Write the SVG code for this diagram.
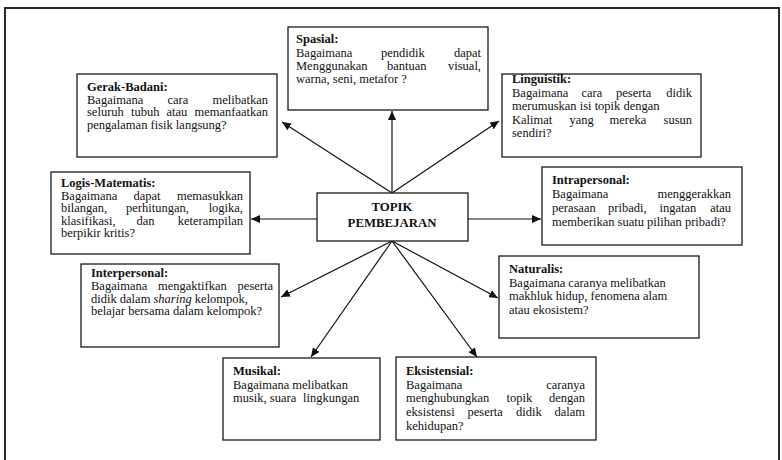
<svg xmlns="http://www.w3.org/2000/svg" width="782" height="460" viewBox="0 0 782 460">
<style>
.frame{fill:none;stroke:#2a2a2a;stroke-width:2}
.box{fill:#fff;stroke:#1a1a1a;stroke-width:1.3}
.t{font-size:12.5px;fill:#111}
.b{font-weight:bold}
.c{font-size:12.8px;font-weight:bold;text-anchor:middle}
.e{text-anchor:end}
.arr{stroke:#111;stroke-width:1.2;fill:none;marker-end:url(#ah)}
</style>
<defs>
<marker id="ah" markerUnits="userSpaceOnUse" markerWidth="10" markerHeight="8" refX="9" refY="4" orient="auto">
<path d="M0,0 L9,4 L0,8 Z" fill="#111"/>
</marker>
</defs>
<rect width="782" height="460" fill="#fff"/>
<rect class="frame" x="5" y="8" width="774" height="470"/>

<g id="connectors">
<line class="arr" x1="392" y1="193" x2="282" y2="122"/>
<line class="arr" x1="392" y1="193" x2="392" y2="111"/>
<line class="arr" x1="392" y1="193" x2="499" y2="121"/>
<line class="arr" x1="317" y1="219" x2="251" y2="219"/>
<line class="arr" x1="468" y1="219" x2="541" y2="219"/>
<line class="arr" x1="392" y1="241" x2="281" y2="297"/>
<line class="arr" x1="392" y1="241" x2="311" y2="357"/>
<line class="arr" x1="392" y1="241" x2="477" y2="357"/>
<line class="arr" x1="392" y1="241" x2="498" y2="298"/>
</g>

<g font-family="'Liberation Serif', 'Times New Roman', Times, serif">
<g id="topik">
<rect class="box" x="317" y="193" width="151" height="48"/>
<text class="t c" x="392" y="211">TOPIK</text>
<text class="t c" x="392" y="227">PEMBEJARAN</text>
</g>

<g id="spasial">
<rect class="box" x="288" y="27" width="200" height="83"/>
<text class="t b" x="296" y="43">Spasial:</text>
<text class="t" y="57"><tspan x="296">Bagaimana</tspan><tspan x="381">pendidik</tspan></text>
<text class="t e" x="481" y="57">dapat</text>
<text class="t" y="70"><tspan x="296">Menggunakan</tspan><tspan x="387">bantuan</tspan></text>
<text class="t e" x="481" y="70">visual,</text>
<text class="t" x="296" y="83">warna, seni, metafor ?</text>
</g>

<g id="gerak-badani">
<rect class="box" x="77" y="74" width="200" height="83"/>
<text class="t b" x="87" y="91">Gerak-Badani:</text>
<text class="t" y="103.5"><tspan x="87">Bagaimana</tspan><tspan x="167.5">cara</tspan></text>
<text class="t e" x="268" y="103.5">melibatkan</text>
<text class="t" y="116"><tspan x="87">seluruh</tspan><tspan x="131">tubuh</tspan><tspan x="166.5">atau</tspan></text>
<text class="t e" x="268" y="116">memanfaatkan</text>
<text class="t" x="87" y="128.5">pengalaman fisik langsung?</text>
</g>

<g id="linguistik">
<rect class="box" x="502" y="74" width="199" height="83"/>
<text class="t b" x="512" y="83">Linguistik:</text>
<text class="t" y="96.5"><tspan x="512">Bagaimana</tspan><tspan x="581.5">cara</tspan><tspan x="616">peserta</tspan></text>
<text class="t e" x="692" y="96.5">didik</text>
<text class="t" x="512" y="110">merumuskan isi topik dengan</text>
<text class="t" y="123.5"><tspan x="512">Kalimat</tspan><tspan x="569.5">yang</tspan><tspan x="609.5">mereka</tspan></text>
<text class="t e" x="692" y="123.5">susun</text>
<text class="t" x="512" y="137">sendiri?</text>
</g>

<g id="logis-matematis">
<rect class="box" x="51" y="172" width="199" height="82"/>
<text class="t b" x="61" y="187">Logis-Matematis:</text>
<text class="t" y="199.5"><tspan x="61">Bagaimana</tspan><tspan x="133.5">dapat</tspan></text>
<text class="t e" x="243" y="199.5">memasukkan</text>
<text class="t" y="212"><tspan x="61">bilangan,</tspan><tspan x="126">perhitungan,</tspan></text>
<text class="t e" x="243" y="212">logika,</text>
<text class="t" y="224.5"><tspan x="61">klasifikasi,</tspan><tspan x="136.5">dan</tspan></text>
<text class="t e" x="243" y="224.5">keterampilan</text>
<text class="t" x="61" y="237">berpikir kritis?</text>
</g>

<g id="intrapersonal">
<rect class="box" x="542" y="167" width="200" height="78"/>
<text class="t b" x="552" y="183.5">Intrapersonal:</text>
<text class="t" x="552" y="197.5">Bagaimana</text>
<text class="t e" x="731" y="197.5">menggerakkan</text>
<text class="t" y="211.5"><tspan x="552">perasaan</tspan><tspan x="608">pribadi,</tspan><tspan x="659.5">ingatan</tspan></text>
<text class="t e" x="731" y="211.5">atau</text>
<text class="t" x="552" y="225.5">memberikan suatu pilihan pribadi?</text>
</g>

<g id="interpersonal">
<rect class="box" x="81" y="264" width="198" height="83"/>
<text class="t b" x="91" y="276.5">Interpersonal:</text>
<text class="t" y="290"><tspan x="91">Bagaimana</tspan><tspan x="158">mengaktifkan</tspan></text>
<text class="t e" x="273" y="290">peserta</text>
<text class="t" x="91" y="302.5">didik dalam <tspan font-style="italic">sharing</tspan> kelompok,</text>
<text class="t" x="91" y="315">belajar bersama dalam kelompok?</text>
</g>

<g id="naturalis">
<rect class="box" x="499" y="256" width="200" height="82"/>
<text class="t b" x="509" y="273">Naturalis:</text>
<text class="t" x="509" y="286.5">Bagaimana caranya melibatkan</text>
<text class="t" x="509" y="300">makhluk hidup, fenomena alam</text>
<text class="t" x="509" y="313.5">atau ekosistem?</text>
</g>

<g id="musikal">
<rect class="box" x="223" y="358" width="157" height="82"/>
<text class="t b" x="233" y="375">Musikal:</text>
<text class="t" x="233" y="388.5">Bagaimana melibatkan</text>
<text class="t" y="402"><tspan x="233">musik, suara</tspan><tspan x="303">lingkungan</tspan></text>
</g>

<g id="eksistensial">
<rect class="box" x="396" y="357" width="200" height="83"/>
<text class="t b" x="406" y="375">Eksistensial:</text>
<text class="t" x="406" y="388.5">Bagaimana</text>
<text class="t e" x="585" y="388.5">caranya</text>
<text class="t" y="402"><tspan x="406">menghubungkan</tspan><tspan x="506.5">topik</tspan></text>
<text class="t e" x="585" y="402">dengan</text>
<text class="t" y="416"><tspan x="406">eksistensi</tspan><tspan x="467.5">peserta</tspan><tspan x="516">didik</tspan></text>
<text class="t e" x="585" y="416">dalam</text>
<text class="t" x="406" y="429.5">kehidupan?</text>
</g>
</g>
</svg>
